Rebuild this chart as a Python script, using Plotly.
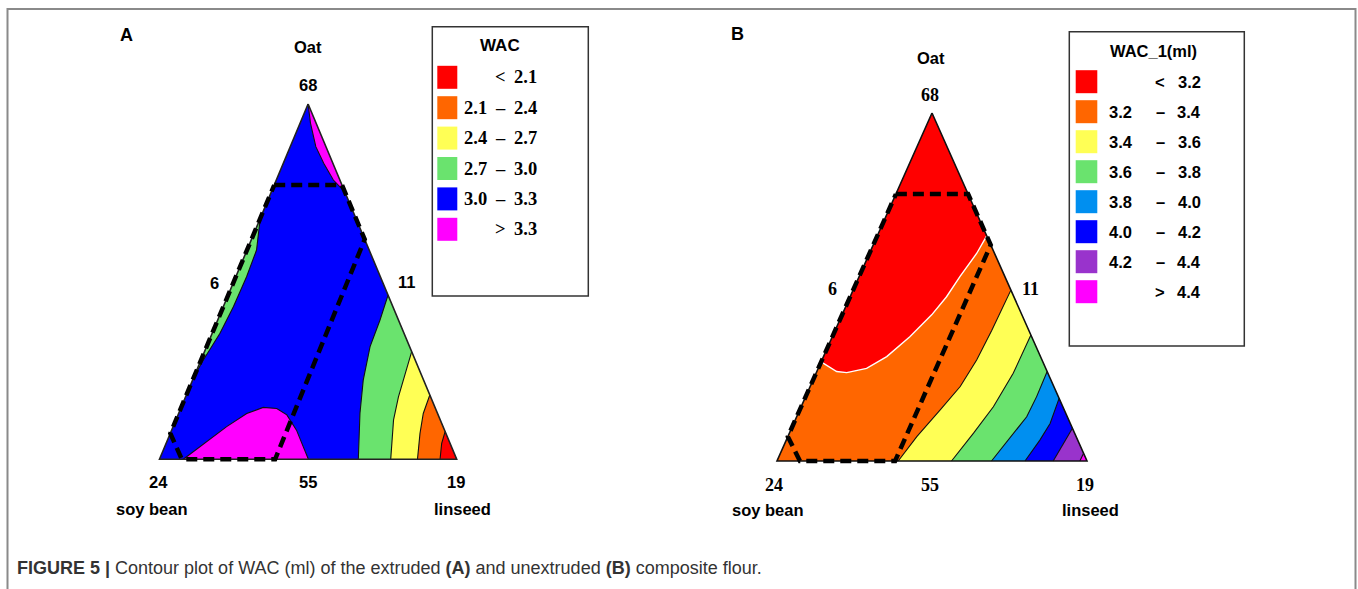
import plotly.graph_objects as go

W, H = 1358, 589

# ---------------- data (pseudo-component %, oat = top, linseed = right, soy = rest) -------------
# Panel A (extruded) - contour class colors
A_colors = ["#FF0000", "#FF6600", "#FFFF55", "#6AE36E", "#0000FF", "#FF00FF"]
A_lo = ["", "2.1", "2.4", "2.7", "3.0", ""]
A_op = ["<", "–", "–", "–", "–", ">"]
A_hi = ["2.1", "2.4", "2.7", "3.0", "3.3", "3.3"]

A_mag_top_oat = [100, 94.6, 88.0, 83.3, 78.6, 75.3]
A_mag_top_lin = [0, 3.5, 8.6, 13.6, 19.2, 24.7]
A_green_left_oat = [67.8, 58.9, 51.4, 43.0, 35.5, 28.0, 23.3]
A_green_left_lin = [0, 3.2, 3.6, 3.4, 2.6, 0.8, 0]
A_mag_bump_oat = [0, 5.0, 9.2, 12.9, 14.6, 14.3, 12.5, 8.2, 3.6, 0]
A_mag_bump_lin = [8.0, 13.4, 18.0, 22.9, 27.6, 32.3, 36.6, 42.0, 46.6, 50.1]
A_b30_oat = [0, 12.9, 22.3, 31.7, 39.2, 46.2]
A_b30_lin = [66.9, 61.0, 57.4, 55.0, 54.6, 53.8]
A_b27_oat = [0, 11.1, 17.6, 24.2, 30.3]
A_b27_lin = [77.8, 73.2, 71.6, 70.5, 69.7]
A_b24_oat = [0, 7.3, 12.9, 18.1]
A_b24_lin = [86.8, 84.0, 82.3, 81.9]
A_b21_oat = [0, 4.5, 7.8]
A_b21_lin = [94.4, 92.7, 92.2]
A_dash_oat = [77.2, 77.2, 61.9, 0, 0, 7.3, 77.2]
A_dash_lin = [0, 22.8, 38.1, 38.9, 7.5, 0, 0]

# Panel B (unextruded)
B_colors = ["#FF0000", "#FF6600", "#FFFF55", "#6AE36E", "#008FF0", "#0000FF", "#9933CC", "#FF00FF"]
B_lo = ["", "3.2", "3.4", "3.6", "3.8", "4.0", "4.2", ""]
B_op = ["<", "–", "–", "–", "–", "–", "–", ">"]
B_hi = ["3.2", "3.4", "3.6", "3.8", "4.0", "4.2", "4.4", "4.4"]

B_b32_oat = [64.7, 59.7, 53.0, 47.2, 42.0, 35.7, 30.0, 26.6, 25.4, 25.7, 28.5]
B_b32_lin = [35.3, 34.6, 32.5, 31.1, 28.9, 25.0, 20.4, 15.6, 9.8, 6.4, 0]
B_b34_oat = [0, 7.0, 14.7, 21.4, 29.0, 37.6, 49.1]
B_b34_lin = [39.1, 41.6, 45.3, 48.4, 49.9, 50.5, 50.9]
B_b36_oat = [0, 8.0, 15.6, 25.2, 36.2]
B_b36_lin = [56.3, 59.4, 62.0, 63.6, 63.8]
B_b38_oat = [0, 6.0, 12.7, 18.5, 25.7]
B_b38_lin = [69.2, 71.6, 74.2, 74.5, 74.3]
B_b40_oat = [0, 6.0, 10.8, 18.0]
B_b40_lin = [80.0, 81.8, 82.7, 82.0]
B_b42_oat = [0, 4.1, 9.4]
B_b42_lin = [89.1, 89.8, 90.6]
B_b44_oat = [0, 2.2]
B_b44_lin = [97.7, 97.8]
B_dash_oat = [76.7, 76.7, 62.1, 0, 0, 7.0, 76.7]
B_dash_lin = [0, 23.3, 37.9, 38.1, 7.4, 0, 0]

TRI_OAT = [100, 0, 0, 100]
TRI_LIN = [0, 0, 100, 0]
vertex_vals = ["68", "24", "19"]
mid_vals = ["6", "11", "55"]
comp_names = ["Oat", "soy bean", "linseed"]


def tern(oat, lin):
    xs = [(l + o / 2) / 100 for o, l in zip(oat, lin)]
    ys = [o / 100 for o in oat]
    return xs, ys


fig = go.Figure()


def add_fill(oat, lin, color, ax):
    x, y = tern(oat, lin)
    fig.add_trace(go.Scatter(x=x, y=y, mode="lines", fill="toself", fillcolor=color,
                             line=dict(width=0, color=color), hoverinfo="skip",
                             showlegend=False, xaxis="x" + ax, yaxis="y" + ax))


def add_line(oat, lin, color, width, ax, dash=None):
    x, y = tern(oat, lin)
    fig.add_trace(go.Scatter(x=x, y=y, mode="lines",
                             line=dict(width=width, color=color, dash=dash),
                             hoverinfo="skip", showlegend=False, xaxis="x" + ax, yaxis="y" + ax))


# ---- Panel A ----
add_fill(TRI_OAT, TRI_LIN, A_colors[4], "")
add_fill(A_green_left_oat, A_green_left_lin, A_colors[3], "")
add_fill(A_mag_top_oat, A_mag_top_lin, A_colors[5], "")
add_fill(A_mag_bump_oat, A_mag_bump_lin, A_colors[5], "")
for (o, l), c in zip([(A_b30_oat, A_b30_lin), (A_b27_oat, A_b27_lin),
                      (A_b24_oat, A_b24_lin), (A_b21_oat, A_b21_lin)],
                     [A_colors[3], A_colors[2], A_colors[1], A_colors[0]]):
    add_fill(o + [0], l + [100], c, "")
for o, l in [(A_green_left_oat, A_green_left_lin), (A_mag_top_oat, A_mag_top_lin),
             (A_mag_bump_oat, A_mag_bump_lin), (A_b30_oat, A_b30_lin),
             (A_b27_oat, A_b27_lin), (A_b24_oat, A_b24_lin), (A_b21_oat, A_b21_lin)]:
    add_line(o, l, "#111111", 1.1, "")
add_line(TRI_OAT, TRI_LIN, "#222222", 1.6, "")
add_line(A_dash_oat, A_dash_lin, "#000000", 4.5, "", dash="11px,6px")

# ---- Panel B ----
add_fill(TRI_OAT, TRI_LIN, B_colors[1], "2")
add_fill([100] + B_b32_oat, [0] + B_b32_lin, B_colors[0], "2")
for (o, l), c in zip([(B_b34_oat, B_b34_lin), (B_b36_oat, B_b36_lin), (B_b38_oat, B_b38_lin),
                      (B_b40_oat, B_b40_lin), (B_b42_oat, B_b42_lin), (B_b44_oat, B_b44_lin)],
                     B_colors[2:]):
    add_fill(o + [0], l + [100], c, "2")
add_line(B_b32_oat, B_b32_lin, "#FFFFFF", 1.4, "2")
for o, l in [(B_b34_oat, B_b34_lin), (B_b36_oat, B_b36_lin), (B_b38_oat, B_b38_lin),
             (B_b40_oat, B_b40_lin), (B_b42_oat, B_b42_lin), (B_b44_oat, B_b44_lin)]:
    add_line(o, l, "#111111", 1.1, "2")
add_line(TRI_OAT, TRI_LIN, "#111111", 1.6, "2")
add_line(B_dash_oat, B_dash_lin, "#000000", 4.5, "2", dash="11px,6px")

# ---------------- layout ----------------
PAD = 0.06


def domains(L, R, T, B):
    w, h = R - L, B - T
    return ([(L - PAD * w) / W, (R + PAD * w) / W],
            [1 - (B + PAD * h) / H, 1 - (T - PAD * h) / H])


dxA, dyA = domains(159.5, 456.7, 104.0, 459.3)
dxB, dyB = domains(777.0, 1087.0, 113.0, 461.0)
ax_common = dict(visible=False, range=[-PAD, 1 + PAD], fixedrange=True)
fig.update_layout(
    width=W, height=H, margin=dict(l=0, r=0, t=0, b=0),
    paper_bgcolor="white", plot_bgcolor="rgba(0,0,0,0)", showlegend=False,
    xaxis=dict(domain=dxA, anchor="y", **ax_common),
    yaxis=dict(domain=dyA, anchor="x", **ax_common),
    xaxis2=dict(domain=dxB, anchor="y2", **ax_common),
    yaxis2=dict(domain=dyB, anchor="x2", **ax_common),
)

SANS = "Liberation Sans, Arial, sans-serif"
SERIF = "Liberation Serif, Times New Roman, serif"

shapes = []
ann = []


def px(x):
    return x / W


def py(y):
    return 1 - y / H


def text(x, y, s, size, family, bold=True, xanchor="center", color="#000"):
    ann.append(dict(x=px(x), y=py(y), xref="paper", yref="paper", showarrow=False,
                    text=("<b>%s</b>" % s) if bold else s, xanchor=xanchor, yanchor="middle",
                    font=dict(size=size, family=family, color=color)))


# outer figure frame
shapes.append(dict(type="rect", xref="paper", yref="paper", x0=px(7.5), x1=px(1355.5),
                   y0=-0.1, y1=py(9), line=dict(color="#8a8a8a", width=2)))

LS = 16.5  # sans label size
# panel A texts
text(126, 35, "A", 18, SANS)
text(308, 47, comp_names[0], LS, SANS)
text(308, 85, vertex_vals[0], LS, SANS)
text(214, 283, mid_vals[0], LS, SANS)
text(406, 282, mid_vals[1], LS, SANS)
text(158.5, 481.5, vertex_vals[1], LS, SANS)
text(307.5, 481.5, mid_vals[2], LS, SANS)
text(456, 481.5, vertex_vals[2], LS, SANS)
text(152, 509, comp_names[1], LS, SANS)
text(462, 509, comp_names[2], LS, SANS)

# panel B texts
text(737, 34, "B", 18, SANS)
text(931, 58, comp_names[0], LS, SANS)
text(930, 95, vertex_vals[0], 18, SERIF)
text(832, 289, mid_vals[0], 18, SERIF)
text(1030, 289, mid_vals[1], 18, SERIF)
text(774, 485, vertex_vals[1], 18, SERIF)
text(930, 485, mid_vals[2], 18, SERIF)
text(1085, 485, vertex_vals[2], 18, SERIF)
text(768, 510, comp_names[1], LS, SANS)
text(1090, 510, comp_names[2], LS, SANS)

# legend A
shapes.append(dict(type="rect", xref="paper", yref="paper", x0=px(432.3), x1=px(588.3),
                   y0=py(296), y1=py(26.7), line=dict(color="#333333", width=1.5)))
text(500, 46, "WAC", 17, SANS)
for i, c in enumerate(A_colors):
    cy = 77.3 + 30.4 * i
    shapes.append(dict(type="rect", xref="paper", yref="paper", x0=px(437.3), x1=px(457.3),
                       y0=py(cy + 11.5), y1=py(cy - 11.5), fillcolor=c, line=dict(width=0)))
    if A_lo[i]:
        text(475.7, cy, A_lo[i], 18.5, SERIF)
    text(500, cy, A_op[i], 18.5, SERIF)
    text(525, cy, A_hi[i], 18.5, SERIF)

# legend B
shapes.append(dict(type="rect", xref="paper", yref="paper", x0=px(1069.3), x1=px(1244.3),
                   y0=py(346), y1=py(31.7), line=dict(color="#333333", width=1.5)))
text(1153, 51.5, "WAC_1(ml)", 16.5, SANS)
for i, c in enumerate(B_colors):
    cy = 81.7 + 30 * i
    shapes.append(dict(type="rect", xref="paper", yref="paper", x0=px(1075.7), x1=px(1097.3),
                       y0=py(cy + 11.5), y1=py(cy - 11.5), fillcolor=c, line=dict(width=0)))
    if B_lo[i]:
        text(1120.5, cy, B_lo[i], 16.5, SANS)
    text(1160, cy, B_op[i], 16.5, SANS)
    text(1189, cy, B_hi[i], 16.5, SANS)

# caption
ann.append(dict(x=px(15), y=py(568), xref="paper", yref="paper", showarrow=False,
                xanchor="left", yanchor="middle",
                text="<b>FIGURE 5 |</b> Contour plot of WAC (ml) of the extruded <b>(A)</b> and "
                     "unextruded <b>(B)</b> composite flour.",
                font=dict(size=18, family=SANS, color="#333")))

fig.update_layout(shapes=shapes, annotations=ann)
fig.write_html("out.html", config={"displayModeBar": False},
               post_script="document.body.style.margin='0';")
